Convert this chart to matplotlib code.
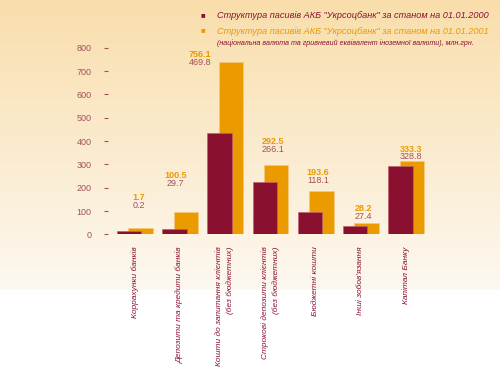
import numpy as np
import matplotlib.pyplot as plt
from matplotlib.colors import LinearSegmentedColormap

# categories and values (bar heights, labels as printed)
categories = ["Коррахунки банків",
              "Депозити та кредити банків",
              "Кошти до запитання клієнтів\n(без бюджетних)",
              "Строкові депозити клієнтів\n(без бюджетних)",
              "Бюджетні кошти",
              "Інші зобов'язання",
              "Капітал Банку"]
bars_2000 = [14, 24, 435, 226, 97, 35, 295]
bars_2001 = [26, 97, 739, 297, 187, 48, 313]
labels_2000 = ["0.2", "29.7", "469.8", "266.1", "118.1", "27.4", "328.8"]
labels_2001 = ["1.7", "100.5", "756.1", "292.5", "193.6", "28.2", "333.3"]
yticks = [0, 100, 200, 300, 400, 500, 600, 700, 800]

dark = "#8a1030"
orange = "#eb9a00"
rose = "#a4505c"

plt.rcParams['font.family'] = ['Liberation Sans', 'DejaVu Sans']

fig = plt.figure(figsize=(5, 3.71), dpi=100)

# background gradient
bg = fig.add_axes([0, 0.218, 1, 0.782])
cmap = LinearSegmentedColormap.from_list("bg", ["#fdf8f0", "#f9deab"])
grad = np.linspace(0, 1, 256).reshape(-1, 1)
bg.imshow(grad, aspect="auto", cmap=cmap, origin="lower", extent=[0, 1, 0, 1])
bg.axis("off")

ax = fig.add_axes([0.216, 0.368, 0.664, 0.524])
ax.set_facecolor("none")
x = np.arange(len(categories))
w = 0.54
ax.bar(x + 0.125, bars_2001, w, color=orange, edgecolor="#f6c880", linewidth=0.5, zorder=2)
ax.bar(x - 0.125, bars_2000, w, color=dark, edgecolor="#c06070", linewidth=0.5, zorder=3)

# value labels
lab_y = [160, 252, 773, 397, 265, 113, 366]
lab_dx = [0.09, -0.1, -0.55, 0.05, 0.05, 0.05, 0.1]
for i in range(len(categories)):
    ax.text(x[i] + lab_dx[i], lab_y[i], labels_2001[i], color=orange, fontsize=6.5,
            fontweight="bold", ha="center", va="center")
    ax.text(x[i] + lab_dx[i], lab_y[i] - 34, labels_2000[i], color=rose, fontsize=6.5,
            ha="center", va="center")

ax.set_xlim(-0.595, 6.75)
ax.set_ylim(0, 833)
ax.set_yticks(yticks)
ax.tick_params(axis="y", length=3, color=rose, labelcolor=rose, labelsize=6.5, pad=9)
ax.set_xticks([])
for s in ax.spines.values():
    s.set_visible(False)

for i, c in enumerate(categories):
    ax.text(x[i], -52, c, rotation=90, ha="center", va="top", multialignment="right",
            color=dark, fontsize=6.0, style="italic", linespacing=1.6)

# legend
fig.text(203 / 500, 1 - 16 / 371, "■", color=dark, fontsize=5.5, ha="center", va="center")
fig.text(203 / 500, 1 - 31 / 371, "■", color=orange, fontsize=5.5, ha="center", va="center")
fig.text(217 / 500, 1 - 16 / 371, "Структура пасивів АКБ \"Укрсоцбанк\" за станом на 01.01.2000",
         color=dark, fontsize=6.6, style="italic", va="center")
fig.text(217 / 500, 1 - 31 / 371, "Структура пасивів АКБ \"Укрсоцбанк\" за станом на 01.01.2001",
         color=orange, fontsize=6.6, style="italic", va="center")
fig.text(217 / 500, 1 - 43 / 371, "(національна валюта та гривневий еквівалент іноземної валюти), млн.грн.",
         color=dark, fontsize=5.1, style="italic", va="center")

fig.savefig("out.png", dpi=100)
